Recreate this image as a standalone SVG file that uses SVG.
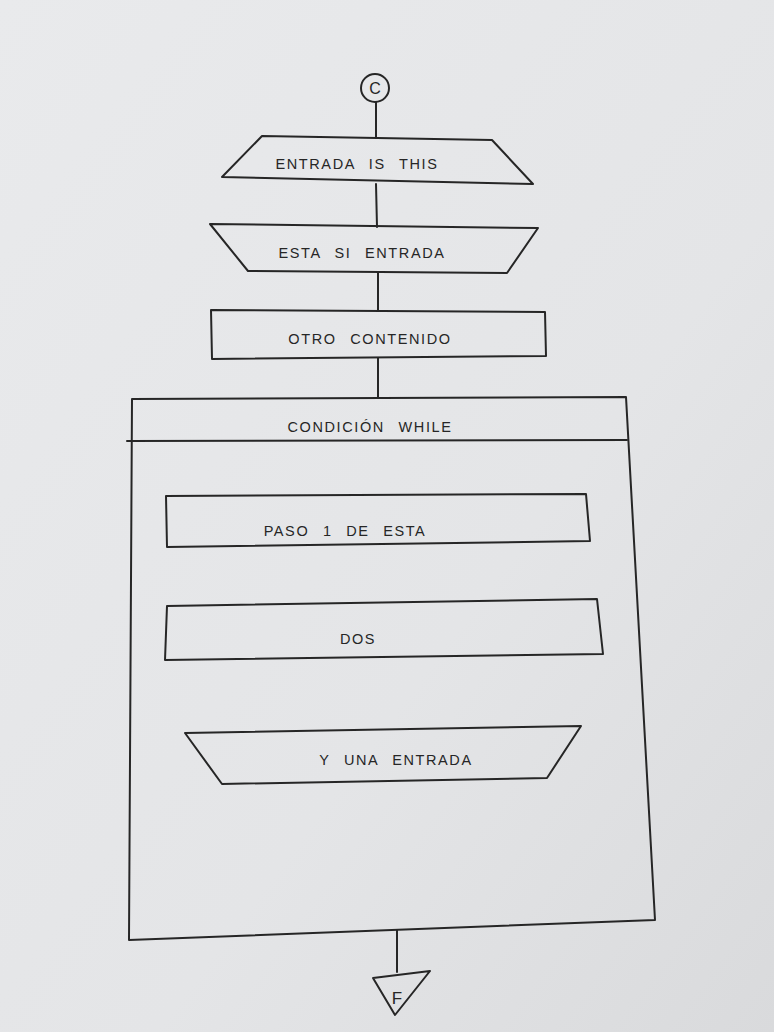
<svg xmlns="http://www.w3.org/2000/svg" width="774" height="1032" viewBox="0 0 774 1032">
<defs>
<linearGradient id="paper" x1="0" y1="0" x2="1" y2="1">
<stop offset="0" stop-color="#e9eaec"/>
<stop offset="0.6" stop-color="#e4e5e7"/>
<stop offset="1" stop-color="#d9dadc"/>
</linearGradient>
<style>
.s{fill:none;stroke:#262626;stroke-width:2;stroke-linejoin:round;stroke-linecap:round}
.t{font-family:"Liberation Sans",Arial,sans-serif;font-size:14.5px;fill:#262626;text-anchor:middle;letter-spacing:1.6px;word-spacing:8px}
</style>
</defs>
<rect width="774" height="1032" fill="url(#paper)"/>
<g id="connectors" class="s">
<line x1="376" y1="102" x2="376" y2="138"/>
<line x1="376" y1="184" x2="377" y2="227"/>
<line x1="378" y1="272" x2="378" y2="310"/>
<line x1="378" y1="358" x2="378" y2="398"/>
<line x1="397" y1="930" x2="397" y2="972"/>
</g>
<g id="start">
<circle class="s" cx="375" cy="88" r="14"/>
<text class="t" x="375" y="94" style="font-size:16px;letter-spacing:0">C</text>
</g>
<g id="entrada-is-this">
<polygon class="s" points="262,136 492,140 533,184 222,177"/>
<text class="t" x="357" y="169">ENTRADA IS THIS</text>
</g>
<g id="esta-si-entrada">
<polygon class="s" points="210,224 538,228 507,273 248,271"/>
<text class="t" x="362" y="258">ESTA SI ENTRADA</text>
</g>
<g id="otro-contenido">
<polygon class="s" points="211,310 545,312 546,356 212,359"/>
<text class="t" x="370" y="344">OTRO CONTENIDO</text>
</g>
<g id="while">
<polygon class="s" points="132,399 626,397 655,920 129,940"/>
<line class="s" x1="127" y1="441" x2="627" y2="440"/>
<text class="t" x="370" y="432">CONDICIÓN WHILE</text>
</g>
<g id="paso1">
<polygon class="s" points="166,496 586,494 590,541 167,547"/>
<text class="t" x="345" y="536">PASO 1 DE ESTA</text>
</g>
<g id="dos">
<polygon class="s" points="167,606 597,599 603,654 165,660"/>
<text class="t" x="358" y="644">DOS</text>
</g>
<g id="y-una-entrada">
<polygon class="s" points="185,733 581,726 547,778 222,784"/>
<text class="t" x="396" y="765">Y UNA ENTRADA</text>
</g>
<g id="end">
<polygon class="s" points="373,978 430,971 395,1015"/>
<text class="t" x="397" y="1004" style="font-size:17px;letter-spacing:0">F</text>
</g>
</svg>
